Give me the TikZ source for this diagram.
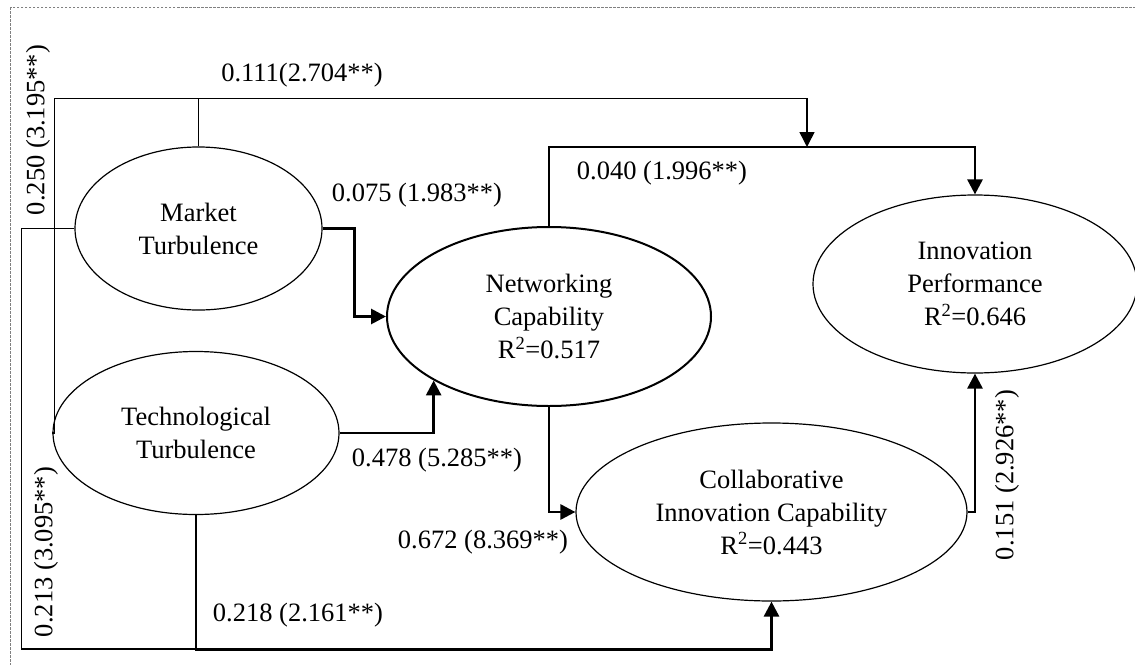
\documentclass[tikz,border=0pt]{standalone}
\usepackage{fontspec}
\setmainfont{Liberation Serif}
\usetikzlibrary{shapes.geometric,arrows.meta}
\begin{document}
\begin{tikzpicture}[x=1pt,y=-1pt,
  every node/.style={font=\fontsize{26.5}{33}\selectfont, inner sep=0pt},
  construct/.style={ellipse, draw, line width=1.2pt, align=center},
  frame/.style={draw=gray, line width=0.8pt, dash pattern=on 2.5pt off 1.5pt},
  corr link/.style={line width=1.3pt},
  mod link/.style={line width=1.5pt, -{Triangle[length=15pt,width=15pt]}},
  path link/.style={line width=2.8pt, -{Triangle[length=15pt,width=15pt]}},
  coef/.style={}
]
\useasboundingbox (0,0) rectangle (1135,664);
\clip (0,0) rectangle (1135,664);
\draw[frame] (10.5,7) rectangle (1150,680);

% constructs
\node[construct, minimum width=247pt, minimum height=163pt] (MT) at (198.5,228.5) {Market\\Turbulence};
\node[construct, minimum width=286pt, minimum height=163pt] (TT) at (196,433) {Technological\\Turbulence};
\node[construct, line width=2pt, minimum width=324pt, minimum height=179pt] (NC) at (549,316.5) {Networking\\Capability\\R\textsuperscript{2}=0.517};
\node[construct, minimum width=391pt, minimum height=178pt] (CI) at (771.5,512) {Collaborative\\Innovation Capability\\R\textsuperscript{2}=0.443};
\node[construct, minimum width=324pt, minimum height=178pt] (IP) at (975,284) {Innovation\\Performance\\R\textsuperscript{2}=0.646};

% structural paths
\draw[path link] (MT.east) -- ++(32,0) |- (NC.west);
\draw[path link] (TT.east) -| (NC.209);
\draw[path link] (NC.south) |- (CI.west);
\draw[path link] (TT.south) -- ++(0,134) coordinate (tb) -| (CI.south);
\draw[path link] (CI.east) -| (IP.south);
\draw[path link] (NC.north) -- ++(0,-79) coordinate (nctop) -| (IP.north);
\path (nctop) ++(258,0) coordinate (mod);

% moderating and correlation lines
\draw[mod link] (MT.north) -- ++(0,-48) coordinate (mtop) -| (mod);
\draw[corr link] (mtop) -- ++(-144,0) |- (TT.west);
\draw[corr link] (MT.west) -- ++(-53,0) |- (tb);

% coefficients
\node[coef] (c1) at (302,75) {0.111(2.704**)};
\node[coef, rotate=90] (c2) at (38,130) {0.250 (3.195**)};
\node[coef] (c3) at (417,195) {0.075 (1.983**)};
\node[coef] (c4) at (662,173) {0.040 (1.996**)};
\node[coef] (c5) at (437,460) {0.478 (5.285**)};
\node[coef] (c6) at (483,542) {0.672 (8.369**)};
\node[coef] (c7) at (298,615) {0.218 (2.161**)};
\node[coef, rotate=90] (c8) at (46,552) {0.213 (3.095**)};
\node[coef, rotate=90] (c9) at (1007,475) {0.151 (2.926**)};
\end{tikzpicture}
\end{document}
